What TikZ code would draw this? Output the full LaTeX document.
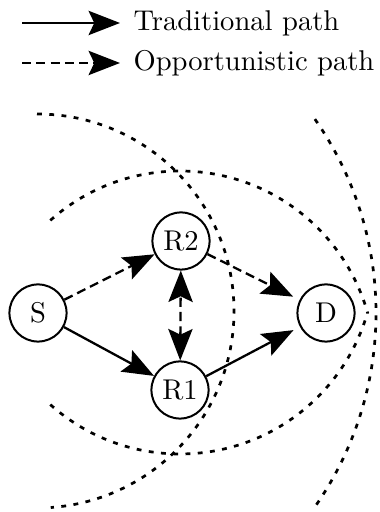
\documentclass[tikz,border=0pt]{standalone}
\usetikzlibrary{arrows.meta}
\begin{document}
\begin{tikzpicture}[x=0.35pt,y=0.35pt,
  nd/.style={circle,draw,line width=0.7pt,minimum size=20pt,inner sep=0pt},
  tipend/.style={-{Stealth[length=11pt,width=8.5pt,inset=2pt]}},
  tipboth/.style={{Stealth[length=11pt,width=8.5pt,inset=2pt]}-{Stealth[length=11pt,width=8.5pt,inset=2pt]}},
  trad/.style={line width=0.8pt},
  opp/.style={line width=0.8pt,dash pattern=on 3.2pt off 1.8pt},
  rangearc/.style={line width=0.95pt,dash pattern=on 1.7pt off 2.6pt},
  lbl/.style={anchor=base west,inner sep=0pt}]
\useasboundingbox (0,0) rectangle (379,512);

% legend
\coordinate (a1s) at (22,489);
\coordinate (a1e) at (120,489);
\coordinate (a2s) at (22,449);
\coordinate (a2e) at (120,449);
\draw[trad,tipend] (a1s) -- (a1e);
\draw[opp,tipend] (a2s) -- (a2e);
\node[lbl] (t1) at (133,481) {Traditional path};
\node[lbl] (t2) at (133,441) {Opportunistic path};

% nodes
\node[nd] (S)  at (38,199)  {S};
\node[nd] (R2) at (181,271) {R2};
\node[nd] (R1) at (180,122) {R1};
\node[nd] (D)  at (326,199) {D};

% range arcs
\coordinate (cA) at (37,201);
\coordinate (cB) at (180,146);
\coordinate (cC) at (180,253);
\coordinate (cD) at (38,199);
\draw[rangearc] ([shift={(90:197)}]cA) arc[start angle=90,end angle=-86,radius=197];
\draw[rangearc] ([shift={(131.7:195)}]cB) arc[start angle=131.7,end angle=15.7,radius=195];
\draw[rangearc] ([shift={(-131.7:195)}]cC) arc[start angle=-131.7,end angle=-16,radius=195];
\draw[rangearc] ([shift={(35:338)}]cD) arc[start angle=35,end angle=-35,radius=338];

% edges
\draw[opp,tipend] (S) -- (R2);
\draw[opp,tipend,shorten >=2.5pt] (R2) -- (D);
\draw[trad,tipend] (S) -- (R1);
\draw[trad,tipend,shorten >=2.5pt] (R1) -- (D);
\draw[opp,tipboth] (R1) -- (R2);
\end{tikzpicture}
\end{document}
